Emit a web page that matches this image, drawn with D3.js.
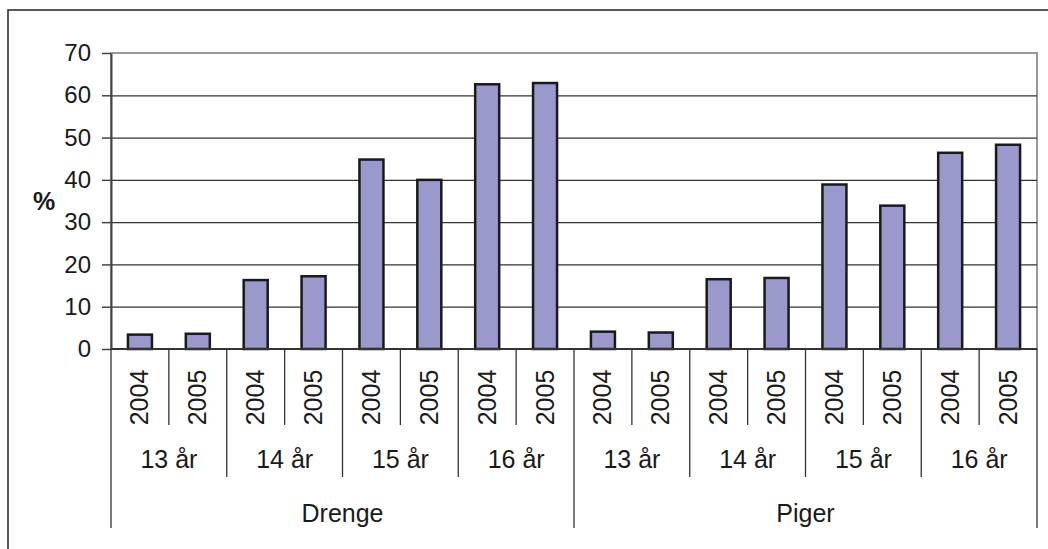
<!DOCTYPE html>
<html>
<head>
<meta charset="utf-8">
<script src="https://cdn.jsdelivr.net/npm/d3@7"></script>
<style>
  html, body { margin: 0; padding: 0; background: #fff; }
  svg { display: block; font-family: "Liberation Sans", Arial, sans-serif; }
</style>
</head>
<body>
<svg id="chart" width="1048" height="549"></svg>
<script>
// ---- data ----
const genders = ["Drenge", "Piger"];
const ages = ["13 år", "14 år", "15 år", "16 år"];
const years = ["2004", "2005"];
const drengeValues = [3.4, 3.6, 16.3, 17.2, 44.8, 40.0, 62.6, 62.9];
const pigerValues = [4.1, 3.9, 16.5, 16.8, 38.9, 33.9, 46.4, 48.3];
const yTicks = [0, 10, 20, 30, 40, 50, 60, 70];
const yLabel = "%";

(function () {
  // build flat table
  const rows = [];
  genders.forEach((g, gi) => {
    const vals = gi === 0 ? drengeValues : pigerValues;
    ages.forEach((a, ai) => {
      years.forEach((yr, yi) => {
        rows.push({ key: g + "|" + a + "|" + yr, gender: g, age: a, year: yr, value: vals[ai * years.length + yi] });
      });
    });
  });

  const svg = d3.select("#chart");
  const W = 1048, H = 549;
  const pL = 111, pR = 1037, pT = 53, pB = 349;

  // outer chart frame (extends beyond picture to right and bottom)
  svg.append("rect").attr("x", 8).attr("y", 10).attr("width", W + 20).attr("height", H + 20)
    .attr("fill", "none").attr("stroke", "#222").attr("stroke-width", 1.5);

  const x = d3.scaleBand().domain(rows.map(d => d.key)).range([pL, pR]).padding(0);
  const y = d3.scaleLinear().domain([0, 70]).range([pB, pT]);

  // plot area border (gray)
  svg.append("rect").attr("x", pL).attr("y", pT).attr("width", pR - pL).attr("height", pB - pT)
    .attr("fill", "none").attr("stroke", "#999").attr("stroke-width", 2);

  // gridlines
  const grid = svg.append("g").attr("transform", `translate(${pL},0)`)
    .call(d3.axisLeft(y).tickValues(yTicks.filter(t => t > 0 && t < 70)).tickSize(-(pR - pL)).tickFormat(""));
  grid.select(".domain").remove();
  grid.selectAll("line").attr("stroke", "#333").attr("stroke-width", 1.2);

  // bars
  const barW = 24;
  svg.append("g").selectAll("rect").data(rows).join("rect")
    .attr("x", d => x(d.key) + x.bandwidth() / 2 - barW / 2)
    .attr("y", d => y(d.value))
    .attr("width", barW)
    .attr("height", d => y(0) - y(d.value))
    .attr("fill", "#9999cc")
    .attr("stroke", "#1a1a1a")
    .attr("stroke-width", 2.5);

  // y axis
  const yAxis = svg.append("g").attr("transform", `translate(${pL},0)`)
    .call(d3.axisLeft(y).tickValues(yTicks).tickSize(9).tickPadding(11).tickSizeOuter(0));
  yAxis.select(".domain").attr("stroke", "#444").attr("stroke-width", 2);
  yAxis.selectAll(".tick line").attr("stroke", "#444").attr("stroke-width", 1.5);
  yAxis.selectAll("text").attr("font-size", 24).attr("fill", "#1a1a1a")
    .attr("font-family", '"Liberation Sans", Arial, sans-serif');

  // y label
  svg.append("text").attr("x", 44).attr("y", (pT + pB) / 2).attr("dy", "0.35em")
    .attr("text-anchor", "middle").attr("font-size", 25).attr("font-weight", "bold")
    .attr("fill", "#1a1a1a").text(yLabel);

  // x baseline
  svg.append("line").attr("x1", pL).attr("x2", pR).attr("y1", y(0)).attr("y2", y(0))
    .attr("stroke", "#333").attr("stroke-width", 2);

  // multi-level category separators
  const n = rows.length;
  const step = x.step();
  const perGender = ages.length * years.length;
  const sep = svg.append("g");
  for (let i = 0; i <= n; i++) {
    let yEnd;
    if (i % perGender === 0) yEnd = 528;
    else if (i % years.length === 0) yEnd = 477;
    else yEnd = 425;
    const xx = pL + i * step;
    sep.append("line").attr("x1", xx).attr("x2", xx).attr("y1", y(0)).attr("y2", yEnd)
      .attr("stroke", "#333").attr("stroke-width", 1.3);
  }

  // year labels (rotated)
  svg.append("g").selectAll("text").data(rows).join("text")
    .attr("transform", d => `translate(${x(d.key) + x.bandwidth() / 2 + 8.5},397.5) rotate(-90)`)
    .attr("text-anchor", "middle").attr("font-size", 25).attr("fill", "#1a1a1a")
    .text(d => d.year);

  // age labels
  const ageGroups = [];
  genders.forEach(g => ages.forEach(a => ageGroups.push({ gender: g, age: a })));
  svg.append("g").selectAll("text").data(ageGroups).join("text")
    .attr("x", d => x(d.gender + "|" + d.age + "|" + years[0]) + step * years.length / 2)
    .attr("y", 468)
    .attr("text-anchor", "middle").attr("font-size", 25).attr("fill", "#1a1a1a")
    .text(d => d.age);

  // gender labels
  svg.append("g").selectAll("text").data(genders).join("text")
    .attr("x", g => x(g + "|" + ages[0] + "|" + years[0]) + step * perGender / 2)
    .attr("y", 522)
    .attr("text-anchor", "middle").attr("font-size", 25).attr("fill", "#1a1a1a")
    .text(g => g);
})();
</script>
</body>
</html>
